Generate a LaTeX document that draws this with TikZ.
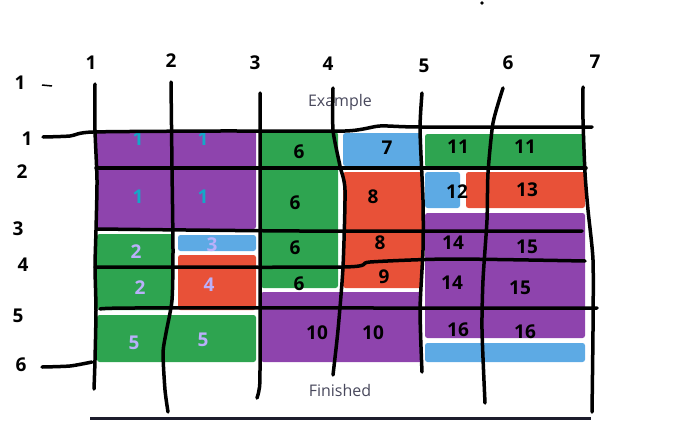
\documentclass[tikz,border=0pt]{standalone}
\usepackage{fontspec}
\setmainfont{Open Sans}
\definecolor{plum}{RGB}{142,68,173}
\definecolor{grass}{RGB}{46,164,80}
\definecolor{sky}{RGB}{93,170,228}
\definecolor{tomato}{RGB}{232,81,56}
\definecolor{cyanpen}{RGB}{20,168,200}
\definecolor{lilac}{RGB}{186,176,250}
\definecolor{slate}{RGB}{72,72,92}
\definecolor{bar}{RGB}{28,28,44}
\tikzset{
  block/.style={fill=#1,rounded corners=2.5pt},
  block/.default=plum,
  stroke/.style={line width=3.5pt,line cap=round,line join=round,draw=black},
  digit/.style={font=\fontsize{19}{19}\selectfont\bfseries,text=#1,inner sep=0pt},
  digit/.default=black,
  caption/.style={font=\fontsize{16}{18}\selectfont,text=slate,inner sep=0pt},
}
\begin{document}
\begin{tikzpicture}[x=1pt,y=-1pt]
  \useasboundingbox (0,0) rectangle (684,420);
  % screenshot blocks
  \foreach \c/\xa/\ya/\xb/\yb in {plum/96/130/256/229, grass/97/234/173/310,
      sky/178/235/256/251, tomato/178/255/256/310, grass/97/315/256/362,
      grass/261/132/338/288, sky/343/133/422/166, tomato/343/172/422/288,
      plum/261/292/422/362, grass/425/134/585/167, sky/425/172/460/208,
      tomato/466/172/585/208, plum/425/213/585/338, sky/425/343/585/362}
    \fill[block=\c] (\xa,\ya) rectangle (\xb,\yb);
  \fill[bar] (90,417) rectangle (591,420);
  \node[caption] (example) at (340,102) {Example};
  \node[caption] (finished) at (340,390) {Finished};
  % cell numbers
  \foreach \t/\x/\y/\c [count=\i] in {1/138/139/cyanpen, 1/203/139/cyanpen,
      1/138/197/cyanpen, 1/203/197/cyanpen, 2/136/252/lilac, 3/212/245/lilac,
      2/140/288/lilac, 4/209/285/lilac, 5/134/343/lilac, 5/203/340/lilac,
      6/299/152/black, 7/387/148/black, 6/295/203/black, 8/373/197/black,
      6/295/248/black, 8/380/243/black, 6/299/284/black, 9/384/277/black,
      10/317/333/black, 10/373/333/black, 11/458/147/black, 11/525/147/black,
      12/457/192/black, 13/527/190/black, 14/453/243/black, 15/527/247/black,
      14/452/283/black, 15/520/288/black, 16/458/330/black, 16/525/332/black}
    \node[digit=\c] (cell\i) at (\x,\y) {\t};
  % column and row labels
  \foreach \t/\x/\y in {1/91/63, 2/171/61, 3/255/63, 4/328/64, 5/424/66, 6/508/63, 7/595/62}
    \node[digit] (col\t) at (\x,\y) {\t};
  \foreach \t/\x/\y [count=\i] in {1/20/83, 1/27/139, 2/22/172, 3/18/229, 4/23/265, 5/18/316, 6/21/365}
    \node[digit] (row\i) at (\x,\y) {\t};
  \draw[line width=1.5pt] (42,85) -- (52,86);
  \fill (482,3) circle (1.8);
  % grid strokes
  \draw[stroke] plot[smooth,tension=0.4] coordinates {(95,84) (95,130) (97,180) (96,230) (95,267) (96,310) (95,360) (94,389)};
  \draw[stroke] plot[smooth,tension=0.4] coordinates {(171,82) (172,168) (173,250) (172,300) (166,333) (163,353) (165,390) (168,412)};
  \draw[stroke] plot[smooth,tension=0.4] coordinates {(260,93) (260,200) (260,370) (259,390) (257,398)};
  \draw[stroke] plot[smooth,tension=0.4] coordinates {(333,88) (333,130) (340,166) (345,190) (343,267) (338,330) (333,375)};
  \draw[stroke] plot[smooth,tension=0.4] coordinates {(422,93) (420,130) (423,200) (423,250) (420,310) (422,372)};
  \draw[stroke] plot[smooth,tension=0.4] coordinates {(503,88) (493,123) (488,173) (487,220) (483,280) (482,330) (485,403)};
  \draw[stroke] plot[smooth,tension=0.4] coordinates {(583,87) (583,120) (585,173) (588,210) (593,260) (593,330) (592,412)};
  \draw[stroke] plot[smooth,tension=0.4] coordinates {(43,137) (70,136) (93,132) (220,131) (345,131) (380,126) (420,127) (592,127)};
  \draw[stroke] (96,168) -- (586,168);
  \draw[stroke] plot[smooth,tension=0.4] coordinates {(97,229) (300,231) (582,231)};
  \draw[stroke] plot[smooth,tension=0.4] coordinates {(95,267) (343,267) (370,262) (450,259) (585,261)};
  \draw[stroke] plot[smooth,tension=0.4] coordinates {(100,309) (133,308) (400,308) (597,308)};
  \draw[stroke] plot[smooth,tension=0.4] coordinates {(42,367) (70,366) (92,362)};
\end{tikzpicture}
\end{document}
